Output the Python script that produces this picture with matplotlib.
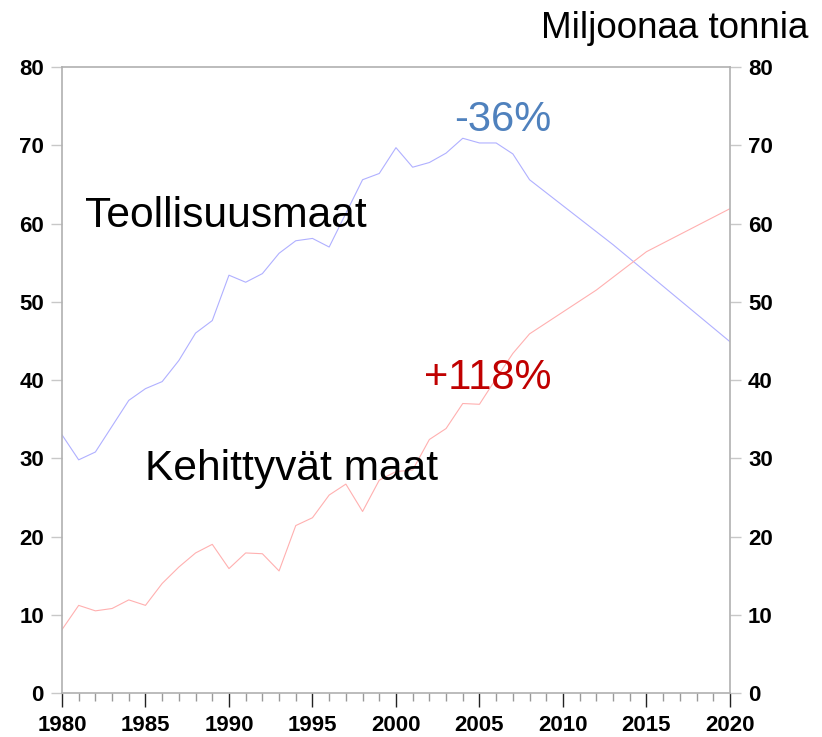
import matplotlib
matplotlib.use("Agg")
import matplotlib.pyplot as plt
from matplotlib.ticker import MultipleLocator

plt.rcParams['font.family'] = ['Liberation Sans', 'DejaVu Sans']

# Teollisuusmaat (industrial countries), million tonnes
ind_years = [1980, 1981, 1982, 1983, 1984, 1985, 1986, 1987, 1988, 1989,
             1990, 1991, 1992, 1993, 1994, 1995, 1996, 1997, 1998, 1999,
             2000, 2001, 2002, 2003, 2004, 2005, 2006, 2007, 2008, 2013, 2020]
ind_vals = [33.0, 29.8, 30.8, 34.1, 37.4, 38.9, 39.8, 42.5, 46.0, 47.6,
            53.4, 52.5, 53.6, 56.2, 57.8, 58.1, 57.0, 61.3, 65.6, 66.4,
            69.7, 67.2, 67.8, 69.0, 70.9, 70.3, 70.3, 68.9, 65.6, 57.3, 44.9]

# Kehittyvät maat (developing countries)
dev_years = [1980, 1981, 1982, 1983, 1984, 1985, 1986, 1987, 1988, 1989,
             1990, 1991, 1992, 1993, 1994, 1995, 1996, 1997, 1998, 1999,
             2000, 2001, 2002, 2003, 2004, 2005, 2006, 2007, 2008, 2012,
             2015, 2020]
dev_vals = [8.1, 11.2, 10.5, 10.8, 11.9, 11.2, 14.0, 16.1, 17.9, 19.0,
            15.9, 17.9, 17.8, 15.6, 21.4, 22.4, 25.3, 26.7, 23.2, 27.2,
            28.3, 28.5, 32.4, 33.8, 37.0, 36.9, 40.2, 43.4, 45.9, 51.5,
            56.4, 61.9]

fig = plt.figure(figsize=(8.22, 7.37), dpi=100)
ax = fig.add_axes([0.0754, 0.0597, 0.8126, 0.8493])

ax.plot(ind_years, ind_vals, color='#b0b0ff', lw=0.8)
ax.plot(dev_years, dev_vals, color='#ffb0b0', lw=0.8)

ax.set_xlim(1980, 2020)
ax.set_ylim(0, 80)
ax.xaxis.set_major_locator(MultipleLocator(5))
ax.xaxis.set_minor_locator(MultipleLocator(1))
ax.yaxis.set_major_locator(MultipleLocator(10))

for s in ax.spines.values():
    s.set_color('#b0b0b0')
    s.set_linewidth(1.2)

ax.tick_params(axis='y', which='major', direction='out', length=8, width=1,
               color='#c8c8c8', labelsize=16, pad=5, left=True, right=True,
               labelleft=True, labelright=True)
ax.tick_params(axis='x', which='major', direction='out', length=10, width=1,
               color='#222222', labelsize=16, pad=6)
ax.tick_params(axis='x', which='minor', direction='out', length=6, width=1,
               color='#999999')
for t in ax.xaxis.get_major_ticks() + ax.yaxis.get_major_ticks():
    t.label1.set_fontweight('bold')
    t.label2.set_fontweight('bold')

ax.text(1981.4, 59.5, 'Teollisuusmaat', fontsize=30.7, color='black')
ax.text(1985.0, 27.2, 'Kehittyvät maat', fontsize=30.6, color='black')
ax.text(2003.5, 71.8, '-36%', fontsize=30, color='#4f81bd')
ax.text(2001.7, 38.8, '+118%', fontsize=30, color='#c00000')

fig.text(0.983, 0.948, 'Miljoonaa tonnia', fontsize=26.5, ha='right',
         va='baseline')

fig.savefig('out.png', dpi=100)
